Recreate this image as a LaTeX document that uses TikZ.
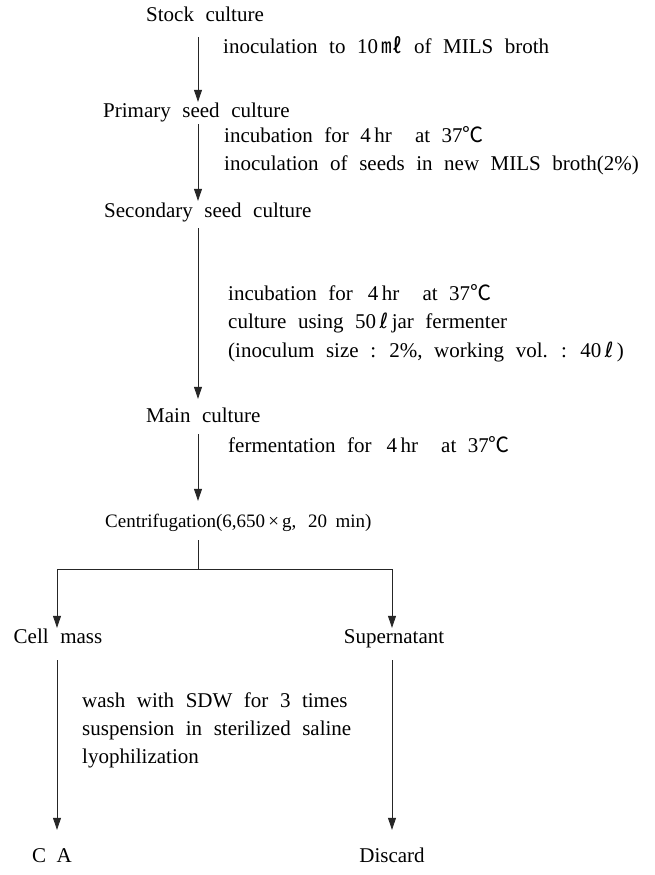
\documentclass[tikz,border=0pt]{standalone}
\usepackage{fontspec}
\setmainfont[WordSpace=2.2]{Liberation Serif}
\newfontfamily\cjkf{Noto Sans CJK KR}
\newfontfamily\dvs{DejaVu Sans}
\newfontfamily\tms[WordSpace=1.8]{Liberation Serif}
\usetikzlibrary{arrows.meta}
\newcommand{\degC}{{\cjkf ℃}}
\newcommand{\mlit}{{\cjkf ㎖}}
\newcommand{\litr}{{\dvs ℓ}}
\begin{document}
\begin{tikzpicture}[x=1pt,y=-1pt,
  txt/.style={inner sep=0pt, font=\fontsize{21}{25}\selectfont, text height=14pt, text depth=4pt},
  lt/.style={txt, anchor=west},
  ln/.style={line width=0.8pt, draw=black!85},
  arr/.style={ln, -{Triangle[length=12pt,width=8pt]}}]
\useasboundingbox[fill=white] (0,0) rectangle (654,875);
\coordinate (ax) at (198,0);
\coordinate (lx) at (57,0);
\coordinate (rx) at (392,0);
% nodes
\node[lt] (stock) at (146,17) {Stock culture};
\node[lt] (s1) at (223,49) {inoculation to 10\,\mlit\ of MILS broth};
\node[lt] (primary) at (103,112) {Primary seed culture};
\node[lt] (s2a) at (224,137) {incubation for 4\,hr\ \ at 37\degC};
\node[lt] (s2b) at (224,165) {inoculation of seeds in new MILS broth(2\%)};
\node[lt] (secondary) at (104,212) {Secondary seed culture};
\node[lt] (s3a) at (228,295) {incubation for\ \,4\,hr\ \ at 37\degC};
\node[lt] (s3b) at (228,323) {culture using 50\,\litr\,jar fermenter};
\node[lt] (s3c) at (228,352) {(inoculum size : 2\%, working vol. : 40\,\litr\,)};
\node[lt] (main) at (146,417) {Main culture};
\node[lt] (s4) at (228,447) {fermentation for\ \,4\,hr\ \ at 37\degC};
\node[lt, font=\tms\fontsize{19}{23}\selectfont] (centri) at (105,522) {Centrifugation(6,650\,×\,g,\ \,20 min)};
\node[txt] (cell) at (58,638) {Cell mass};
\node[txt] (super) at (394,638) {Supernatant};
\node[lt] (w1) at (82,702) {wash with SDW for 3 times};
\node[lt] (w2) at (82,730) {suspension in sterilized saline};
\node[lt] (w3) at (82,758) {lyophilization};
\node[txt] (ca) at (52,857) {C\enspace A};
\node[txt] (discard) at (392,857) {Discard};
% connectors
\draw[arr] ([yshift=-11pt]stock.south -| ax) -- ([yshift=1pt]primary.north -| ax);
\draw[arr] ([yshift=-3pt]primary.south -| ax) -- ([yshift=2pt]secondary.north -| ax);
\draw[arr] ([yshift=-7pt]secondary.south -| ax) -- ([yshift=9pt]main.north -| ax);
\draw[arr] ([yshift=-8pt]main.south -| ax) -- ([yshift=12pt]centri.north -| ax);
\coordinate (j) at (198,569);
\coordinate (jl) at (57,569);
\coordinate (jr) at (392,569);
\draw[ln] ([yshift=-9pt]centri.south -| ax) -- (j);
\draw[ln] (jl) -- (jr);
\draw[arr] (jl) -- ([yshift=1pt]cell.north -| lx);
\draw[arr] (jr) -- ([yshift=1pt]super.north -| rx);
\draw[arr] ([yshift=-13pt]cell.south -| lx) -- ([yshift=18pt]ca.north -| lx);
\draw[arr] ([yshift=-13pt]super.south -| rx) -- ([yshift=18pt]discard.north -| rx);
\end{tikzpicture}
\end{document}
